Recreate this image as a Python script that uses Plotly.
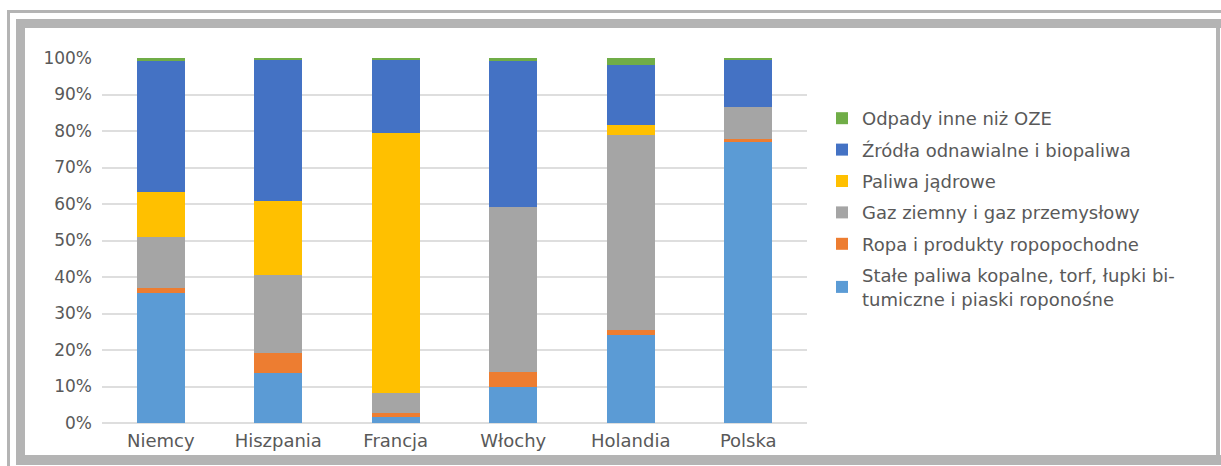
import plotly.graph_objects as go

countries = ["Niemcy", "Hiszpania", "Francja", "Włochy", "Holandia", "Polska"]

series_names = [
    "Stałe paliwa kopalne, torf, łupki bi-<br>tumiczne i piaski roponośne",
    "Ropa i produkty ropopochodne",
    "Gaz ziemny i gaz przemysłowy",
    "Paliwa jądrowe",
    "Źródła odnawialne i biopaliwa",
    "Odpady inne niż OZE",
]
solid = [35.6, 13.8, 1.6, 10.0, 24.2, 76.9]
oil = [1.3, 5.5, 1.1, 3.9, 1.2, 0.9]
gas = [14.1, 21.2, 5.5, 45.4, 53.6, 8.8]
nuclear = [12.2, 20.4, 71.3, 0.0, 2.7, 0.0]
renewables = [36.1, 38.7, 20.1, 40.0, 16.5, 13.0]
waste = [0.7, 0.4, 0.4, 0.7, 1.8, 0.4]
colors = ["#5B9BD5", "#ED7D31", "#A5A5A5", "#FFC000", "#4472C4", "#70AD47"]

tick_vals = [0, 10, 20, 30, 40, 50, 60, 70, 80, 90, 100]
tick_text = [f"{v}%" for v in tick_vals]

W, H = 1221, 466
L, R, T, B = 102, 807, 58, 423

all_series = [solid, oil, gas, nuclear, renewables, waste]
totals = [sum(x) for x in zip(*all_series)]

fig = go.Figure()
for i, (name, vals) in enumerate(zip(series_names, all_series)):
    fig.add_trace(go.Bar(
        x=countries, y=[v / t * 100 for v, t in zip(vals, totals)], name=name,
        marker=dict(color=colors[i], line=dict(width=0)),
        legendgroup=f"g{i}", legendrank=100 * (6 - i),
    ))

def px_x(p):
    return (p - L) / (R - L)

def px_y(p):
    return (B - p) / (B - T)

frame_col = "#b4b4b4"
rects = [
    (7, 10, 1221, 13),    # outer thin top
    (7, 10, 10, 466),     # outer thin left
    (16, 19, 1221, 28),   # thick top
    (16, 19, 25, 465),    # thick left
    (16, 455, 1221, 465), # thick bottom
    (1216, 19, 1220, 465) # right
]
shapes = []
for x0, y0, x1, y1 in rects:
    shapes.append(dict(type="rect", xref="paper", yref="paper",
                       x0=px_x(x0), x1=px_x(x1), y0=px_y(y1), y1=px_y(y0),
                       fillcolor=frame_col, line=dict(width=0), layer="below"))

font_fam = "DejaVu Sans"
fig.update_layout(
    width=W, height=H,
    margin=dict(l=L, r=W - R, t=T, b=H - B, pad=0),
    barmode="stack",
    bargap=0.59,
    paper_bgcolor="white", plot_bgcolor="white",
    font=dict(family=font_fam, size=17, color="#595959"),
    shapes=shapes,
    showlegend=True,
    legend=dict(
        x=px_x(822), xanchor="left", y=px_y(100), yanchor="top",
        traceorder="grouped", tracegroupgap=5,
        font=dict(family=font_fam, size=18, color="#595959"),
        bgcolor="rgba(0,0,0,0)",
    ),
    xaxis=dict(showgrid=False, showline=False, ticks="", tickfont=dict(size=18),
               ticklabelstandoff=5),
    yaxis=dict(range=[0, 100], tickvals=tick_vals, ticktext=tick_text,
               showgrid=True, gridcolor="#dedede", gridwidth=2,
               zeroline=True, zerolinecolor="#dedede", zerolinewidth=2,
               showline=False, ticks="", ticklabelstandoff=9, tickfont=dict(size=17)),
)

fig.write_html("out.html")
